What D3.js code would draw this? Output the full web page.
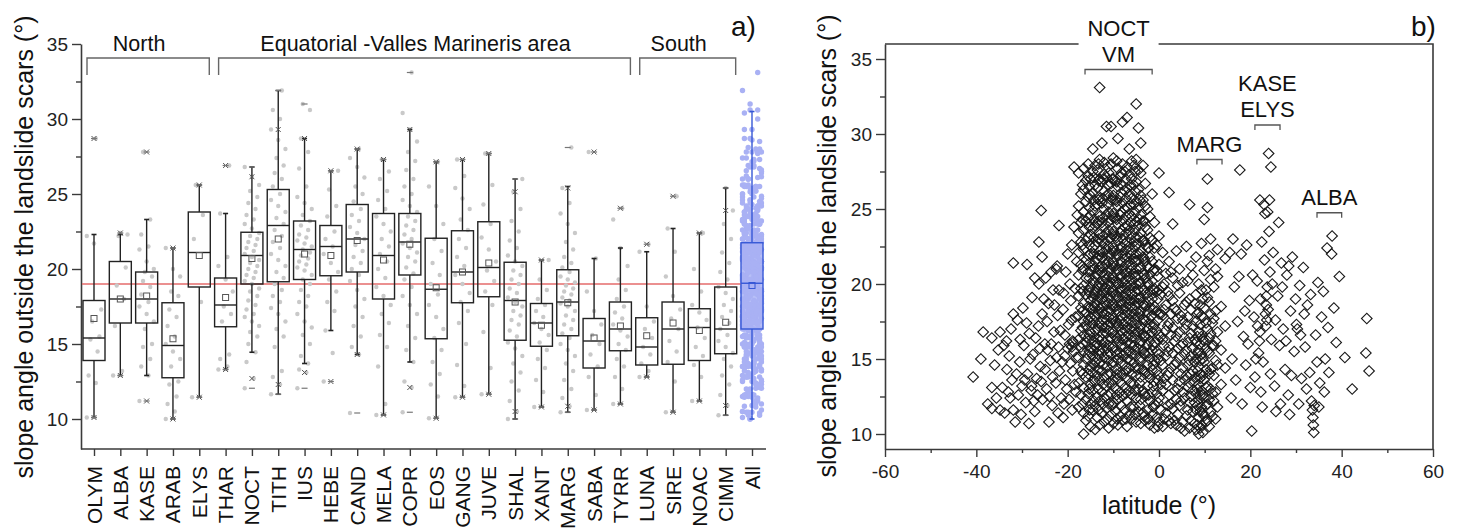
<!DOCTYPE html>
<html>
<head>
<meta charset="utf-8">
<script src="https://d3js.org/d3.v7.min.js"></script>
<style>
    body {
        margin: 0;
        background: #fff;
    }

    svg {
        display: block;
        font-family: "Liberation Sans", Arial, Helvetica, sans-serif;
    }
</style>
</head>
<body>
<script>
    const width = 1460,
        height = 531;
    const font = '"Liberation Sans", Arial, Helvetica, sans-serif';

    // ---- panel a: box plot per region ----
    const categories = ["OLYM", "ALBA", "KASE", "ARAB", "ELYS", "THAR", "NOCT", "TITH", "IUS", "HEBE", "CAND", "MELA", "COPR",
        "EOS", "GANG", "JUVE", "SHAL", "XANT", "MARG", "SABA", "TYRR", "LUNA", "SIRE", "NOAC", "CIMM", "All"];
    const q1 = [13.9, 16.4, 16.4, 12.75, 18.8, 16.15, 19.0, 19.15, 19.3, 19.55, 19.8, 18.0, 19.6, 15.35, 17.75, 18.15, 15.25, 14.85, 15.55, 13.4, 14.55, 13.6, 13.65, 13.9, 14.35, 16.0];
    const median = [15.4, 18.0, 18.0, 14.9, 21.1, 17.6, 20.9, 22.9, 21.3, 21.5, 22.0, 20.9, 21.8, 18.65, 19.8, 20.1, 17.9, 16.4, 17.8, 15.2, 16.0, 14.8, 16.0, 16.1, 16.0, 19.05];
    const q3 = [17.9, 20.5, 19.8, 17.75, 23.8, 19.4, 22.45, 25.3, 23.2, 22.9, 24.3, 23.7, 23.7, 22.05, 22.55, 23.15, 20.45, 17.7, 19.95, 16.7, 17.8, 16.75, 17.8, 17.35, 18.8, 21.75];
    const means = [16.7, 18.0, 18.2, 15.35, 20.9, 18.1, 20.7, 22.0, 21.0, 20.9, 21.9, 20.6, 21.65, 18.75, 19.8, 20.4, 17.8, 16.25, 17.75, 15.4, 16.2, 15.55, 16.4, 15.9, 16.45, 18.9];
    const whiskerLow = [10.1, 12.9, 12.9, 10.0, 11.45, 13.3, 14.45, 11.65, 13.7, 15.9, 14.3, 10.27, 13.8, 10.05, 11.45, 11.65, 10.0, 10.8, 10.45, 10.6, 11.0, 12.8, 10.45, 11.2, 10.25, 10.0];
    const whiskerHigh = [22.3, 22.3, 23.3, 21.4, 25.6, 23.7, 26.8, 31.9, 28.7, 26.55, 28.0, 27.3, 29.3, 27.15, 27.3, 27.7, 26.0, 20.6, 25.5, 20.7, 21.4, 21.15, 22.7, 22.4, 25.4, 30.5];
    const pct1 = [10.1, 12.9, 11.2, 10.0, 11.45, 13.3, 12.7, 12.3, 13.1, 12.5, 14.3, 10.27, 12.1, 10.05, 11.45, 11.65, 10.5, 10.8, 10.85, 10.6, 11.0, 12.8, 10.45, 11.2, 10.9, 10.3];
    const pct99 = [28.7, 22.4, 27.8, 21.4, 25.6, 26.9, 26.15, 29.3, 28.7, 26.55, 28.0, 27.3, 29.3, 27.15, 27.3, 27.7, 25.15, 20.6, 25.4, 27.8, 24.05, 21.65, 24.85, 22.4, 23.9, 29.0];
    const minVals = [10.1, 12.9, 11.2, 10.0, 11.45, 13.3, 12.05, 11.65, 12.05, 12.5, 10.4, 10.27, 10.45, 10.05, 11.45, 11.65, 10.0, 10.8, 10.45, 10.6, 11.0, 12.8, 10.45, 11.2, 10.25, 10.0];
    const maxVals = [28.7, 22.4, 27.8, 21.4, 25.6, 26.9, 26.8, 31.9, 31.0, 26.55, 28.0, 27.3, 33.1, 27.15, 27.3, 27.7, 26.0, 20.6, 28.1, 27.8, 24.05, 21.65, 24.85, 22.4, 25.4, 33.1];
    const meanAll = 19.0;

    // individual slope values per region (All = every region together)
    const catPoints = [
        [10.1, 12.4, 12.9, 14.5, 15.3, 15.5, 16.5, 17.3, 21.7, 22.2, 28.7],
        [12.9, 13.2, 16.2, 18.0, 18.9, 20.1, 22.2, 22.3, 22.4],
        [11.2, 12.9, 13.5, 14.0, 14.8, 15.0, 16.0, 16.5, 17.0, 17.5, 17.8, 18.3, 18.8, 19.2, 19.5, 19.8, 20.0, 20.5, 21.3, 21.5, 22.3, 23.3, 27.8],
        [10.0, 10.5, 11.0, 11.5, 12.3, 12.5, 13.5, 14.0, 14.5, 15.0, 15.5, 16.2, 16.8, 17.3, 18.2, 18.5, 19.5, 20.0, 21.4],
        [11.45, 17.8, 22.0, 23.6, 25.6],
        [13.3, 13.5, 14.0, 14.3, 16.5, 17.0, 17.5, 18.5, 19.3, 20.2, 20.8, 23.7, 26.9],
        [12.05, 12.7, 13.8, 14.45, 15.0, 15.5, 15.8, 16.2, 16.5, 16.8, 17.0, 17.3, 17.6, 17.9, 18.2, 18.5, 18.7, 19.0, 19.2, 19.4, 19.6, 19.8, 20.0, 20.2, 20.4, 20.6, 20.8, 21.0, 21.2, 21.4, 21.6, 21.8, 22.0, 22.2, 22.4, 22.7, 23.0, 23.3, 23.6, 24.0, 24.4, 24.8, 25.2, 25.6, 26.15, 26.8],
        [11.65, 12.3, 12.8, 13.2, 14.8, 15.5, 16.0, 16.5, 17.0, 17.4, 17.8, 18.2, 18.6, 19.0, 19.4, 19.8, 20.2, 20.6, 21.0, 21.4, 21.8, 22.2, 22.6, 23.0, 23.4, 23.8, 24.2, 24.6, 25.0, 25.5, 26.0, 26.4, 26.9, 27.4, 28.0, 28.6, 29.3, 30.0, 30.6, 31.9],
        [12.05, 13.1, 13.3, 13.7, 14.2, 15.0, 15.6, 16.1, 16.5, 17.0, 17.5, 17.8, 18.2, 18.6, 19.0, 19.3, 19.6, 19.9, 20.1, 20.3, 20.5, 20.7, 20.9, 21.1, 21.3, 21.5, 21.7, 21.9, 22.1, 22.3, 22.6, 22.9, 23.2, 23.6, 24.0, 24.4, 24.8, 25.5, 26.7, 27.8, 28.7, 30.6, 31.0],
        [12.5, 14.4, 15.9, 17.2, 17.8, 18.5, 19.3, 19.8, 20.4, 21.0, 21.5, 22.0, 22.5, 23.5, 24.2, 25.3, 26.55],
        [10.4, 14.3, 14.8, 15.5, 16.2, 16.8, 17.5, 18.0, 18.6, 19.2, 19.6, 20.0, 20.4, 20.8, 21.2, 21.6, 22.0, 22.4, 22.8, 23.2, 23.6, 24.0, 24.5, 25.0, 25.5, 26.1, 26.8, 27.4, 28.0],
        [10.27, 11.0, 13.5, 14.8, 15.6, 16.4, 17.0, 17.6, 18.2, 18.8, 19.4, 20.0, 20.5, 21.0, 21.5, 22.0, 22.5, 23.0, 23.5, 24.0, 24.6, 25.2, 26.0, 26.5, 27.3],
        [10.45, 12.1, 12.5, 13.8, 14.6, 15.4, 16.2, 17.0, 17.6, 18.2, 18.8, 19.3, 19.7, 20.1, 20.5, 20.8, 21.1, 21.4, 21.7, 22.0, 22.3, 22.6, 22.9, 23.2, 23.5, 23.8, 24.2, 24.6, 25.0, 25.5, 26.0, 26.6, 27.2, 27.8, 28.5, 29.3, 30.4, 33.1],
        [10.05, 11.5, 12.3, 13.0, 13.8, 14.6, 15.4, 16.0, 16.8, 17.6, 18.3, 19.0, 19.6, 20.4, 21.2, 22.0, 23.0, 24.2, 25.5, 27.15],
        [11.45, 12.2, 13.6, 15.0, 16.4, 17.2, 17.8, 18.4, 19.0, 19.6, 20.2, 20.8, 21.4, 22.0, 22.6, 23.3, 24.0, 24.7, 25.4, 26.2, 27.3],
        [11.65, 13.4, 15.8, 17.6, 18.5, 19.2, 19.9, 20.5, 21.3, 22.1, 23.0, 24.3, 25.6, 27.7],
        [10.0, 10.5, 11.2, 11.9, 12.5, 13.1, 13.7, 14.2, 14.7, 15.1, 15.5, 15.9, 16.3, 16.6, 16.9, 17.2, 17.5, 17.8, 18.1, 18.4, 18.7, 19.0, 19.3, 19.6, 19.9, 20.2, 20.5, 20.9, 21.4, 21.9, 22.5, 23.2, 24.0, 25.15, 26.0],
        [10.8, 11.8, 12.6, 13.4, 14.0, 14.6, 15.1, 15.6, 16.0, 16.4, 16.8, 17.2, 17.6, 18.0, 18.6, 19.3, 20.6],
        [10.45, 10.85, 11.4, 12.0, 12.6, 13.2, 13.7, 14.2, 14.6, 15.0, 15.4, 15.7, 16.0, 16.3, 16.6, 16.9, 17.2, 17.5, 17.7, 17.9, 18.1, 18.3, 18.5, 18.7, 18.9, 19.1, 19.3, 19.5, 19.8, 20.1, 20.4, 20.8, 21.3, 21.8, 22.4, 23.0, 23.7, 24.4, 25.4, 28.1],
        [10.6, 11.6, 12.8, 13.5, 14.3, 15.0, 15.6, 16.3, 17.2, 18.5, 20.7, 27.8],
        [11.0, 12.0, 12.8, 13.5, 14.0, 14.6, 15.0, 15.5, 15.9, 16.3, 16.7, 17.1, 17.5, 18.0, 18.6, 19.3, 20.2, 21.4, 23.3, 24.05],
        [12.8, 13.2, 13.7, 14.3, 14.8, 15.4, 16.0, 16.5, 17.5, 21.15, 21.65],
        [10.45, 12.5, 13.8, 14.5, 15.2, 16.0, 16.7, 17.3, 18.2, 19.5, 21.15, 22.7, 24.85],
        [11.2, 12.8, 13.6, 14.2, 14.8, 15.4, 16.1, 16.6, 17.1, 17.6, 18.5, 20.0, 22.4],
        [10.25, 10.9, 11.6, 12.3, 12.9, 13.5, 14.0, 14.4, 14.8, 15.2, 15.6, 16.0, 16.4, 16.8, 17.2, 17.6, 18.0, 18.4, 18.8, 19.3, 19.8, 20.4, 21.1, 22.0, 23.0, 23.9, 25.4]
    ];

    const groupNames = ["North", "Equatorial -Valles Marineris area", "South"];
    const groupFirst = ["OLYM", "THAR", "LUNA"];
    const groupLast = ["ELYS", "TYRR", "CIMM"];

    const yTicks = [10, 15, 20, 25, 30, 35];
    const yMinorTicks = [12.5, 17.5, 22.5, 27.5, 32.5];

    // ---- panel b: slope vs latitude ----
    const latTicks = [-60, -40, -20, 0, 20, 40, 60];
    const latMinorTicks = [-50, -30, -10, 10, 30, 50];

    // dense part, one latitude with the slopes found there
    const bColumns = [
        [-17.6, [11.8, 13.4, 15.1, 16.3, 17.9, 19.2, 20.6, 22.1, 23.4, 25.2, 27.4]],
        [-17.1, [12.6, 14.2, 15.8, 16.9, 18.4, 19.7, 21.3, 22.8, 24.1, 26.0]],
        [-16.75, [12.0, 14.0, 16.0, 17.1, 18.2, 19.5, 20.9, 22.6, 24.3, 26.6]],
        [-16.5, [10.0, 11.4, 13.1, 14.6, 15.5, 16.6, 17.5, 18.7, 19.9, 21.0, 22.3, 23.6, 24.8, 26.3, 27.7]],
        [-16.0, [10.9, 12.3, 13.8, 15.0, 16.1, 17.2, 18.1, 19.3, 20.4, 21.6, 22.9, 24.2, 25.5, 26.9]],
        [-15.5, [11.2, 12.7, 14.0, 15.3, 16.4, 17.6, 18.5, 19.6, 20.8, 21.9, 23.1, 24.4, 25.8, 27.2, 28.0]],
        [-15.25, [11.6, 13.0, 14.3, 15.5, 16.6, 17.5, 18.4, 19.4, 20.4, 21.4, 22.6, 23.8, 25.1, 26.5]],
        [-15.0, [10.5, 12.0, 13.3, 14.5, 15.7, 16.8, 17.8, 18.9, 19.8, 20.9, 22.0, 23.3, 24.6, 25.9, 27.0]],
        [-14.5, [11.6, 12.9, 14.1, 15.2, 16.2, 17.3, 18.3, 19.1, 20.2, 21.2, 22.4, 23.7, 24.9, 26.1, 27.5, 29.0]],
        [-14.25, [12.2, 13.6, 14.6, 15.6, 16.5, 17.6, 18.5, 19.3, 20.1, 21.0, 22.0, 23.1, 24.3, 25.6, 27.1]],
        [-14.0, [10.3, 11.9, 13.5, 14.8, 15.9, 16.9, 17.9, 18.7, 19.5, 20.5, 21.5, 22.6, 23.9, 25.2, 26.6, 27.9]],
        [-13.5, [11.1, 12.5, 13.9, 15.0, 16.0, 17.0, 18.0, 18.9, 19.8, 20.7, 21.7, 22.8, 24.0, 25.3, 26.4, 27.6]],
        [-13.25, [11.6, 13.0, 14.3, 15.3, 16.3, 17.2, 18.2, 19.1, 19.9, 20.9, 21.9, 23.0, 24.2, 25.6, 26.9, 28.0]],
        [-13.0, [10.6, 12.2, 13.6, 14.7, 15.6, 16.5, 17.4, 18.4, 19.3, 20.1, 21.1, 22.2, 23.3, 24.5, 25.7, 27.0, 28.3, 33.1]],
        [-12.5, [11.4, 12.8, 14.2, 15.4, 16.3, 17.2, 18.1, 19.0, 19.9, 20.8, 21.8, 22.9, 24.1, 25.4, 26.8, 29.4]],
        [-12.25, [12.0, 13.3, 14.6, 15.7, 16.7, 17.6, 18.5, 19.4, 20.2, 21.1, 22.1, 23.2, 24.4, 25.7, 27.0]],
        [-12.0, [10.8, 12.4, 13.8, 15.1, 16.1, 17.1, 18.0, 18.8, 19.7, 20.6, 21.6, 22.7, 23.8, 25.0, 26.2, 27.3, 28.1]],
        [-11.5, [11.7, 13.2, 14.5, 15.7, 16.7, 17.6, 18.6, 19.4, 20.3, 21.3, 22.3, 23.4, 24.6, 25.9, 27.1, 30.5]],
        [-11.25, [11.0, 12.6, 14.0, 15.3, 16.3, 17.3, 18.2, 19.1, 20.0, 20.9, 21.9, 22.9, 24.1, 25.3, 26.6, 27.8]],
        [-11.0, [10.4, 12.0, 13.4, 14.9, 15.9, 16.9, 17.8, 18.7, 19.6, 20.5, 21.5, 22.5, 23.6, 24.8, 26.0, 27.4]],
        [-10.5, [11.3, 12.7, 14.0, 15.3, 16.4, 17.4, 18.3, 19.2, 20.1, 21.0, 22.0, 23.1, 24.3, 25.6, 26.7, 28.0, 30.5]],
        [-10.25, [11.9, 13.3, 14.6, 15.7, 16.7, 17.6, 18.5, 19.4, 20.3, 21.2, 22.2, 23.3, 24.5, 25.7, 27.0]],
        [-10.0, [10.7, 12.1, 13.6, 14.8, 15.8, 16.8, 17.7, 18.6, 19.5, 20.4, 21.4, 22.4, 23.5, 24.7, 25.9, 27.0, 28.4]],
        [-9.5, [11.5, 13.0, 14.3, 15.5, 16.5, 17.5, 18.5, 19.3, 20.2, 21.2, 22.2, 23.2, 24.4, 25.6, 26.9]],
        [-9.25, [11.0, 12.6, 14.0, 15.3, 16.4, 17.4, 18.3, 19.2, 20.1, 21.0, 22.0, 23.1, 24.3, 25.5, 26.8, 28.2]],
        [-9.0, [10.6, 12.3, 13.7, 15.0, 16.2, 17.2, 18.2, 19.1, 20.0, 20.9, 21.9, 22.9, 24.0, 25.2, 26.5, 27.7, 29.7]],
        [-8.5, [11.2, 12.8, 14.1, 15.4, 16.6, 17.6, 18.6, 19.5, 20.4, 21.3, 22.3, 23.4, 24.6, 25.8, 27.2]],
        [-8.25, [11.9, 13.4, 14.8, 15.9, 16.9, 17.9, 18.8, 19.7, 20.6, 21.5, 22.5, 23.6, 24.8, 26.1, 27.4]],
        [-8.0, [10.9, 12.5, 13.9, 15.2, 16.3, 17.3, 18.3, 19.2, 20.1, 21.0, 22.0, 23.0, 24.2, 25.4, 26.6, 28.0, 30.8]],
        [-7.5, [11.6, 13.1, 14.6, 15.8, 16.9, 17.9, 18.8, 19.7, 20.7, 21.7, 22.7, 23.8, 25.0, 26.2, 27.5]],
        [-7.25, [11.0, 12.7, 14.2, 15.4, 16.5, 17.5, 18.5, 19.4, 20.3, 21.3, 22.3, 23.4, 24.5, 25.7, 27.0]],
        [-7.0, [10.5, 12.2, 13.7, 15.0, 16.1, 17.1, 18.1, 19.0, 19.9, 20.8, 21.8, 22.8, 23.9, 25.1, 26.4, 27.8, 31.1]],
        [-6.5, [11.3, 12.9, 14.4, 15.6, 16.7, 17.7, 18.7, 19.6, 20.5, 21.5, 22.5, 23.6, 24.7, 26.0, 27.3, 29.0]],
        [-6.25, [11.8, 13.4, 14.9, 16.0, 17.0, 18.0, 18.9, 19.9, 20.9, 21.9, 23.0, 24.1, 25.3, 26.6]],
        [-6.0, [11.0, 12.6, 14.0, 15.3, 16.4, 17.4, 18.4, 19.3, 20.2, 21.2, 22.2, 23.3, 24.5, 25.7, 27.0, 28.2]],
        [-5.5, [11.8, 13.3, 14.7, 15.9, 17.0, 18.0, 18.9, 19.8, 20.7, 21.7, 22.8, 24.0, 25.3, 26.6, 27.9]],
        [-5.25, [11.3, 12.9, 14.4, 15.6, 16.7, 17.7, 18.6, 19.5, 20.5, 21.5, 22.5, 23.6, 24.8, 26.2, 27.5]],
        [-5.0, [10.8, 12.4, 13.9, 15.2, 16.3, 17.3, 18.2, 19.1, 20.0, 21.0, 22.0, 23.1, 24.2, 25.5, 26.8, 28.3, 32.0]],
        [-4.5, [11.5, 13.0, 14.4, 15.7, 16.8, 17.8, 18.7, 19.6, 20.6, 21.6, 22.7, 23.9, 25.1, 26.3, 27.6, 30.4]],
        [-4.25, [11.9, 13.4, 14.9, 16.0, 17.0, 18.0, 19.0, 20.0, 21.0, 22.0, 23.1, 24.3, 25.6]],
        [-4.0, [10.7, 12.3, 13.8, 15.1, 16.2, 17.2, 18.2, 19.1, 20.1, 21.1, 22.2, 23.4, 24.6, 25.9, 27.4, 29.4]],
        [-3.5, [11.4, 12.9, 14.3, 15.6, 16.7, 17.7, 18.7, 19.7, 20.7, 21.8, 22.9, 24.2, 25.6, 27.9]],
        [-3.25, [11.2, 12.7, 14.2, 15.4, 16.5, 17.6, 18.6, 19.6, 20.6, 21.7, 22.9, 24.2]],
        [-3.0, [10.9, 12.5, 14.0, 15.3, 16.5, 17.5, 18.5, 19.4, 20.4, 21.5, 22.6, 23.8, 25.2, 26.7]],
        [-2.5, [11.6, 13.2, 14.6, 15.9, 17.0, 18.1, 19.1, 20.1, 21.2, 22.4, 23.6, 25.0]],
        [-2.25, [11.0, 12.6, 14.0, 15.4, 16.6, 17.7, 18.8, 19.9, 21.1, 22.4]],
        [-2.0, [10.6, 12.2, 13.7, 15.0, 16.2, 17.3, 18.4, 19.5, 20.6, 21.8, 23.1, 24.5]],
        [-1.5, [11.3, 12.8, 14.3, 15.6, 16.8, 17.9, 19.0, 20.2, 21.5, 22.9, 26.0]],
        [-1.25, [11.8, 13.2, 14.6, 15.9, 17.1, 18.3, 19.6, 20.9]],
        [-1.0, [10.4, 12.0, 13.5, 14.9, 16.1, 17.3, 18.5, 19.7, 21.0, 22.4, 24.1]],
        [-0.5, [11.1, 12.7, 14.2, 15.5, 16.9, 18.2, 19.5, 20.9, 22.6]],
        [-0.25, [10.5, 12.1, 13.6, 15.0, 16.3, 17.6, 19.0, 20.5]],
        [0.0, [10.8, 12.4, 13.9, 15.3, 16.6, 18.0, 19.6, 21.3, 23.2, 27.4]],
        [0.4, [11.6, 13.3, 14.9, 16.5, 18.0, 19.3]],
        [0.8, [10.5, 12.9, 14.6, 16.3, 17.9, 19.8, 22.1]],
        [1.1, [11.0, 13.7, 15.9, 18.3, 20.0]],
        [1.5, [11.4, 13.3, 15.2, 16.9, 18.6, 20.7]],
        [1.9, [11.9, 13.9, 15.5, 17.2, 19.5]],
        [2.2, [10.9, 12.6, 14.1, 15.8, 17.4, 19.2, 21.5, 26.1]],
        [2.6, [10.7, 12.0, 14.4, 16.6, 18.0, 20.8]],
        [3.0, [11.7, 13.6, 15.4, 17.1, 18.9, 20.4, 24.0]],
        [3.4, [10.9, 12.9, 14.6, 16.2, 18.4]],
        [3.8, [10.6, 12.3, 14.8, 16.5, 18.2, 22.2]],
        [4.1, [11.3, 13.0, 15.7, 17.7, 19.9]],
        [4.5, [11.9, 13.5, 15.1, 16.8, 19.4, 21.0]],
        [4.8, [10.4, 12.2, 14.0, 15.9, 17.9]],
        [5.2, [10.8, 12.8, 14.4, 16.0, 17.6, 20.1]],
        [5.6, [10.2, 12.4, 13.6, 15.3, 17.0, 18.6]],
        [6.0, [11.2, 13.9, 15.6, 17.3, 18.8, 22.5]],
        [6.3, [11.6, 13.1, 14.6, 16.1, 17.8, 20.2]],
        [6.7, [10.4, 12.1, 13.4, 14.9, 16.4, 19.0, 25.3]],
        [7.0, [10.9, 12.5, 14.0, 15.2, 16.7, 18.3, 21.2]],
        [7.4, [11.5, 12.9, 14.2, 15.7, 17.2, 20.6]],
        [7.8, [10.7, 12.1, 13.5, 14.8, 16.3, 18.7]],
        [8.1, [10.3, 11.6, 12.7, 13.8, 15.0, 16.1, 17.5, 19.3, 21.8]],
        [8.4, [10.6, 11.9, 13.0, 14.2, 15.4, 16.5, 18.0]],
        [8.7, [10.0, 11.1, 12.3, 13.3, 14.5, 15.6, 16.8, 18.1, 20.0]],
        [9.0, [10.4, 11.5, 12.6, 13.7, 14.9, 16.0, 17.3, 18.6]],
        [9.3, [10.6, 11.8, 12.9, 14.0, 15.3, 16.5, 17.9, 19.6, 22.7]],
        [9.6, [10.1, 11.4, 12.6, 13.9, 15.0, 16.3, 17.8, 19.0]],
        [9.9, [11.2, 12.4, 13.6, 14.8, 16.2, 18.4, 20.9, 24.3]],
        [10.3, [10.8, 11.9, 13.1, 14.3, 15.7, 17.4, 19.6]],
        [10.6, [10.9, 12.0, 13.2, 15.5, 17.0, 19.1, 21.5, 25.1, 27.0]],
        [11.0, [10.5, 12.3, 14.0, 15.4, 16.4, 18.8, 21.9]],
        [11.3, [11.5, 13.0, 14.3, 16.7, 18.0, 20.3, 23.0]],
        [11.7, [11.2, 12.7, 14.4, 15.9, 17.4]],
        [12.0, [12.2, 13.9, 15.9, 17.7, 19.8]],
        [12.4, [11.0, 12.8, 14.9, 16.2, 18.2, 21.0]],
        [12.8, [11.8, 14.6, 16.8, 20.5, 22.3]],
        [13.6, [13.3, 15.6, 18.5]],
        [14.5, [14.4, 17.2, 21.7]]
    ];

    // scattered landslides outside the dense band, [latitude, slope]
    const bSparse = [
        [-40.7, 13.8], [-39.0, 15.0], [-38.5, 16.8], [-37.5, 12.0], [-36.6, 16.4], [-36.6, 11.7], [-36.6, 13.1], [-36.0, 14.6],
        [-35.6, 12.4], [-35.2, 15.6], [-34.8, 16.8], [-34.8, 11.6], [-34.3, 13.1], [-34.0, 15.9], [-33.8, 11.4], [-33.3, 14.3],
        [-33.4, 16.2], [-33.0, 12.8], [-32.8, 15.2], [-32.6, 12.4], [-32.4, 17.0], [-32.2, 13.6], [-31.9, 18.0], [-31.9, 11.6],
        [-31.9, 21.4], [-31.5, 10.8], [-31.2, 14.0], [-31.0, 17.6], [-30.8, 12.6], [-30.5, 14.8], [-30.4, 16.3], [-30.2, 11.3],
        [-30.0, 13.2], [-29.8, 18.4], [-29.6, 15.9], [-29.4, 13.6], [-29.2, 12.1], [-29.0, 17.4], [-28.9, 21.3], [-28.8, 14.0],
        [-28.5, 10.7], [-28.4, 16.7], [-28.2, 15.0], [-28.0, 12.9], [-27.9, 13.2], [-27.8, 19.1], [-27.6, 15.3], [-27.4, 12.2],
        [-27.2, 20.4], [-27.2, 11.5], [-27.0, 16.4], [-26.8, 13.7], [-26.6, 12.6], [-26.4, 17.2], [-26.3, 20.0], [-26.3, 22.8],
        [-26.1, 15.7], [-26.0, 14.5], [-25.8, 24.9], [-25.8, 13.5], [-25.6, 18.0], [-25.6, 21.8], [-25.5, 12.3], [-25.2, 19.0],
        [-25.0, 16.0], [-24.9, 14.3], [-24.8, 20.4], [-24.6, 13.0], [-24.5, 17.5], [-24.4, 15.6], [-24.2, 18.7], [-24.1, 10.8],
        [-24.0, 12.5], [-23.8, 14.9], [-23.6, 16.0], [-23.6, 20.8], [-23.4, 11.9], [-23.3, 13.8], [-23.2, 19.6], [-23.0, 16.8],
        [-22.9, 18.6], [-22.6, 13.4], [-22.5, 21.0], [-22.4, 15.1], [-22.3, 21.2], [-22.2, 17.9], [-22.1, 11.4], [-22.0, 15.8],
        [-21.9, 23.9], [-21.9, 19.6], [-21.8, 14.2], [-21.6, 16.9], [-21.4, 12.4], [-21.2, 14.8], [-21.0, 11.1], [-21.0, 18.3],
        [-20.9, 19.4], [-20.8, 12.0], [-20.6, 15.2], [-20.6, 16.6], [-20.5, 13.6], [-20.4, 20.8], [-20.2, 13.0], [-20.0, 15.7],
        [-20.0, 22.0], [-19.8, 17.3], [-19.7, 12.3], [-19.6, 16.0], [-19.5, 20.0], [-19.4, 14.7], [-19.3, 18.9], [-19.2, 17.6],
        [-19.1, 22.6], [-19.1, 15.8], [-19.0, 11.6], [-18.9, 16.2], [-18.9, 14.2], [-18.8, 16.1], [-18.7, 15.5], [-18.6, 23.8],
        [-18.6, 27.8], [-18.5, 13.3], [-18.4, 19.7], [-18.3, 17.8], [-18.2, 12.8], [-18.1, 15.1], [-18.0, 21.5], [-17.9, 24.6],
        [15.5, 22.1], [15.8, 12.4], [16.0, 15.0], [16.2, 23.0], [16.5, 19.8], [16.8, 13.6], [17.2, 17.5], [17.5, 20.5],
        [17.7, 27.6], [18.0, 22.0], [18.2, 12.0], [18.5, 16.5], [18.8, 18.2], [19.0, 14.6], [19.2, 22.6], [19.5, 16.0],
        [19.8, 18.9], [20.0, 13.1], [20.3, 10.2], [20.5, 20.6], [20.8, 17.8], [21.0, 13.8], [21.2, 15.0], [21.5, 20.2],
        [21.6, 17.2], [21.8, 15.4], [22.0, 16.2], [22.1, 16.8], [22.1, 25.6], [22.2, 19.0], [22.3, 12.8], [22.5, 22.8],
        [22.6, 11.8], [22.8, 14.8], [23.0, 25.3], [23.1, 21.6], [23.2, 24.7], [23.3, 18.0], [23.4, 17.2], [23.5, 18.6],
        [23.5, 19.2], [23.6, 17.6], [23.7, 19.8], [23.8, 24.8], [23.9, 18.3], [24.0, 28.7], [24.1, 23.5], [24.2, 25.6],
        [24.3, 20.8], [24.4, 14.0], [24.5, 27.8], [24.6, 16.3], [24.8, 20.0], [25.0, 22.1], [25.3, 13.2], [25.5, 17.6],
        [25.6, 11.5], [26.0, 19.2], [26.2, 24.1], [26.4, 15.9], [26.6, 12.0], [26.8, 21.4], [27.0, 19.8], [27.2, 17.0],
        [27.6, 14.3], [27.8, 16.2], [28.0, 20.6], [28.3, 12.6], [28.4, 21.2], [28.6, 11.3], [28.8, 18.2], [29.0, 13.9],
        [29.2, 21.8], [29.6, 15.5], [29.9, 19.0], [30.1, 17.3], [30.3, 17.0], [30.6, 12.0], [30.8, 19.9], [31.0, 16.6],
        [31.2, 13.7], [31.6, 21.1], [31.8, 18.0], [32.0, 15.8], [32.3, 13.0], [32.5, 18.6], [33.0, 14.1], [33.2, 19.3],
        [33.4, 12.2], [33.6, 11.6], [33.7, 11.1], [33.8, 10.6], [33.9, 10.1], [34.0, 11.9], [34.3, 16.6], [34.6, 14.8],
        [34.8, 20.1], [35.0, 11.8], [35.2, 13.4], [35.6, 17.8], [36.0, 19.5], [36.2, 12.8], [36.4, 15.0], [36.8, 22.4],
        [37.0, 17.1], [37.2, 14.1], [37.8, 22.0], [37.9, 23.2], [38.3, 18.4], [38.8, 16.1], [39.5, 20.5], [40.7, 15.1],
        [42.3, 13.0], [45.3, 15.4], [45.5, 17.7], [46.0, 14.2]
    ];

    const bLabels = [["NOCT", "VM"], ["MARG"], ["KASE", "ELYS"], ["ALBA"]];
    const bBracketLat = [[-16.2, -1.5], [8.3, 13.8], [21.0, 26.5], [34.6, 40.0]];
    const bBracketSlope = [34.3, 28.3, 30.6, 24.75];

    const svg = d3.select("body").append("svg").attr("width", width).attr("height", height);
    const axisColor = "#3a3a3a";

    function styleAxis(g, size) {
        g.attr("font-size", size).attr("font-family", font).attr("color", axisColor);
        g.selectAll("line").attr("stroke-width", 1.4);
        g.selectAll("path").attr("stroke-width", 1.6);
        g.selectAll("text").attr("fill", "#222");
    }

    // ================= panel a =================
    const xA = d3.scalePoint().domain(categories).range([94, 752]);
    const yA = d3.scaleLinear().domain([8, 35]).range([449, 44]);
    const boxW = 22;
    const gA = svg.append("g");

    gA.append("g").attr("transform", "translate(81,0)")
        .call(d3.axisLeft(yA).tickValues(yTicks).tickSize(9).tickSizeOuter(0).tickPadding(4))
        .call(styleAxis, 19);
    gA.append("g").attr("transform", "translate(81,0)")
        .call(d3.axisLeft(yA).tickValues(yMinorTicks).tickSize(5).tickFormat(""))
        .call(styleAxis, 19)
        .select(".domain").remove();
    gA.append("g").attr("transform", "translate(0,449)")
        .call(d3.axisBottom(xA).tickSize(7).tickFormat(""))
        .call(styleAxis, 19)
        .select(".domain").remove();
    gA.append("line").attr("x1", 81).attr("x2", 766).attr("y1", 449).attr("y2", 449)
        .attr("stroke", axisColor).attr("stroke-width", 1.6);

    gA.selectAll(".catlab").data(categories).join("text")
        .attr("transform", d => `translate(${xA(d) + 7.5},466) rotate(-90)`)
        .attr("text-anchor", "end").attr("font-size", 21).attr("fill", "#111")
        .text(d => d);

    gA.append("text")
        .attr("transform", "translate(33,247) rotate(-90)")
        .attr("text-anchor", "middle").attr("font-size", 25).attr("fill", "#111")
        .text("slope angle outside the landslide scars (°)");

    gA.append("text").attr("x", 731).attr("y", 36).attr("font-size", 28).attr("fill", "#111").text("a)");

    // region brackets
    groupNames.forEach((name, i) => {
        const x0 = xA(groupFirst[i]) - 7,
            x1 = xA(groupLast[i]) + 10;
        gA.append("path")
            .attr("d", `M${x0},75V58H${x1}V75`)
            .attr("fill", "none").attr("stroke", "#666").attr("stroke-width", 1.4);
        gA.append("text").attr("x", (x0 + x1) / 2 - 9).attr("y", 51)
            .attr("text-anchor", "middle").attr("font-size", 21.5).attr("fill", "#111")
            .text(name);
    });

    // overall mean line
    gA.append("line").attr("x1", 82).attr("x2", xA("All") - boxW / 2).attr("y1", yA(meanAll)).attr("y2", yA(meanAll))
        .attr("stroke", "#e46b6b").attr("stroke-width", 1.3);

    const allPoints = catPoints.flat();

    categories.forEach((cat, i) => {
        const cx = xA(cat);
        const isAll = cat === "All";
        const lineCol = isAll ? "#3557d6" : "#222";
        const g = gA.append("g");
        if (isAll) {
            g.append("rect").attr("x", cx - boxW / 2).attr("width", boxW)
                .attr("y", yA(q3[i])).attr("height", yA(q1[i]) - yA(q3[i]))
                .attr("fill", "#b7bff7");
        }
        const pts = isAll ? allPoints : catPoints[i];
        g.selectAll("circle").data(pts).join("circle")
            .attr("cx", (d, j) => isAll ? cx + ((j * 7) % 11 - 5) * 1.9 : cx + ((j * 5) % 9 - 4) * 1.8)
            .attr("cy", d => yA(d))
            .attr("r", isAll ? 2.7 : 2.2)
            .attr("fill", isAll ? "#a9b1f4" : "#c9c9c9");

        // whiskers
        g.append("line").attr("x1", cx).attr("x2", cx).attr("y1", yA(q3[i])).attr("y2", yA(whiskerHigh[i]))
            .attr("stroke", lineCol).attr("stroke-width", 1.4);
        g.append("line").attr("x1", cx).attr("x2", cx).attr("y1", yA(q1[i])).attr("y2", yA(whiskerLow[i]))
            .attr("stroke", lineCol).attr("stroke-width", 1.4);
        [whiskerLow[i], whiskerHigh[i]].forEach(v => {
            g.append("line").attr("x1", cx - 2.5).attr("x2", cx + 2.5).attr("y1", yA(v)).attr("y2", yA(v))
                .attr("stroke", lineCol).attr("stroke-width", 1.6);
        });
        // box
        g.append("rect").attr("x", cx - boxW / 2).attr("width", boxW)
            .attr("y", yA(q3[i])).attr("height", yA(q1[i]) - yA(q3[i]))
            .attr("fill", "none").attr("stroke", lineCol).attr("stroke-width", 1.4);
        g.append("line").attr("x1", cx - boxW / 2).attr("x2", cx + boxW / 2)
            .attr("y1", yA(median[i])).attr("y2", yA(median[i]))
            .attr("stroke", lineCol).attr("stroke-width", 1.4);
        // mean
        g.append("rect").attr("x", cx - 3).attr("y", yA(means[i]) - 3).attr("width", 6).attr("height", 6)
            .attr("fill", "none").attr("stroke", isAll ? "#3557d6" : "#555").attr("stroke-width", 1);
        if (!isAll) {
            // 1% / 99% markers
            [pct1[i], pct99[i]].forEach(v => {
                const y = yA(v);
                g.append("path").attr("d", `M${cx - 2.5},${y - 2.5}L${cx + 2.5},${y + 2.5}M${cx - 2.5},${y + 2.5}L${cx + 2.5},${y - 2.5}`)
                    .attr("stroke", "#555").attr("stroke-width", 1);
            });
            // min / max
            [minVals[i], maxVals[i]].forEach(v => {
                g.append("line").attr("x1", cx - 3).attr("x2", cx + 3).attr("y1", yA(v)).attr("y2", yA(v))
                    .attr("stroke", "#777").attr("stroke-width", 1.2);
            });
        }
    });

    // ================= panel b =================
    const xB = d3.scaleLinear().domain([-60, 60]).range([885, 1433]);
    const yB = d3.scaleLinear().domain([9, 36]).range([449, 44]);
    const gB = svg.append("g");

    gB.append("g").attr("transform", "translate(885,0)")
        .call(d3.axisLeft(yB).tickValues(yTicks).tickSize(9).tickSizeOuter(0).tickPadding(4))
        .call(styleAxis, 19);
    gB.append("g").attr("transform", "translate(885,0)")
        .call(d3.axisLeft(yB).tickValues(yMinorTicks).tickSize(5).tickFormat(""))
        .call(styleAxis, 19)
        .select(".domain").remove();
    gB.append("g").attr("transform", "translate(0,449)")
        .call(d3.axisBottom(xB).tickValues(latTicks).tickFormat(d => String(d)).tickSize(8).tickSizeOuter(0).tickPadding(8))
        .call(styleAxis, 19);
    gB.append("g").attr("transform", "translate(0,449)")
        .call(d3.axisBottom(xB).tickValues(latMinorTicks).tickSize(4).tickFormat(""))
        .call(styleAxis, 19)
        .select(".domain").remove();

    // frame (top line opens for the NOCT/VM label)
    const gapC = (xB(bBracketLat[0][0]) + xB(bBracketLat[0][1])) / 2;
    gB.append("path")
        .attr("d", `M885,${yB(36)}H${gapC - 40}M${gapC + 40},${yB(36)}H${xB(60)}V${yB(9)}`)
        .attr("fill", "none").attr("stroke", axisColor).attr("stroke-width", 1.6);

    const bPoints = bColumns.flatMap(([lat, slopes]) => slopes.map(s => [lat, s])).concat(bSparse);
    const diamond = d3.symbol(d3.symbolSquare, 56)();
    gB.append("g").selectAll("path").data(bPoints).join("path")
        .attr("d", diamond)
        .attr("transform", d => `translate(${xB(d[0])},${yB(d[1])}) rotate(45)`)
        .attr("fill", "none").attr("stroke", "#1a1a1a").attr("stroke-width", 1.15);

    bLabels.forEach((lines, i) => {
        const x0 = xB(bBracketLat[i][0]),
            x1 = xB(bBracketLat[i][1]),
            y = yB(bBracketSlope[i]);
        gB.append("path").attr("d", `M${x0},${y + 5}V${y}H${x1}V${y + 5}`)
            .attr("fill", "none").attr("stroke", "#555").attr("stroke-width", 1.3);
        lines.forEach((t, k) => {
            gB.append("text").attr("x", (x0 + x1) / 2).attr("y", y - 8 - (lines.length - 1 - k) * 26)
                .attr("text-anchor", "middle").attr("font-size", 22).attr("fill", "#111").text(t);
        });
    });

    gB.append("text").attr("x", 1411).attr("y", 36).attr("font-size", 28).attr("fill", "#111").text("b)");

    gB.append("text")
        .attr("transform", "translate(836,246) rotate(-90)")
        .attr("text-anchor", "middle").attr("font-size", 25).attr("fill", "#111")
        .text("slope angle outside the landslide scars (°)");
    gB.append("text").attr("x", 1159).attr("y", 514)
        .attr("text-anchor", "middle").attr("font-size", 25).attr("fill", "#111")
        .text("latitude (°)");
</script>
</body>
</html>
